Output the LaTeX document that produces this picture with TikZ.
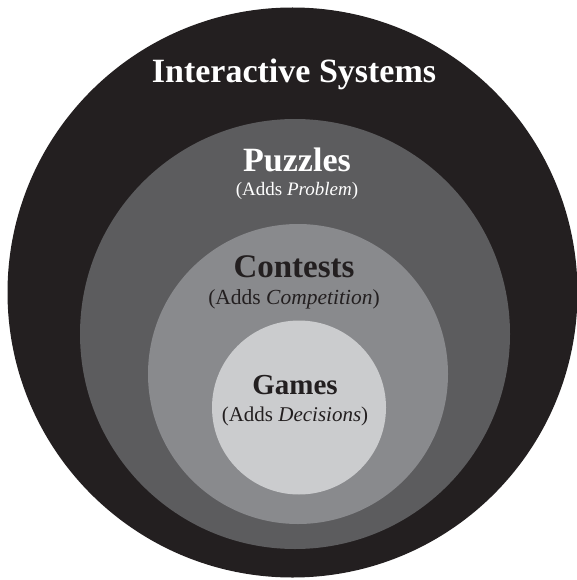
\documentclass[tikz,border=0pt]{standalone}
\usepackage{fontspec}
\setmainfont{Liberation Serif}
\definecolor{c1}{HTML}{231F20}
\definecolor{c2}{HTML}{5C5C5E}
\definecolor{c3}{HTML}{898A8D}
\definecolor{c4}{HTML}{CBCCCE}
\tikzset{
	head/.style={anchor=base, inner sep=0pt, font=\bfseries\fontsize{34}{36}\selectfont},
	sub/.style={anchor=base, inner sep=0pt, font=\fontsize{20}{22}\selectfont}
}

\begin{document}
\begin{tikzpicture}[x=1pt,y=-1pt]
			\useasboundingbox (0,0) rectangle (576,580);

			\fill[c1] (292.5,292.5) circle (285);
			\fill[c2] (295,334) circle (215);
			\fill[c3] (298,374) circle (150);
			\fill[c4] (299,407.5) circle (87);

			\node[head, white] (sys) at (294,83) {Interactive Systems};

			\node[head, white] (puz) at (297,171.5) {Puzzles};
			\node[sub, white, font=\fontsize{19}{21}\selectfont] (puzsub) at (297,195.5) {(Adds \textit{Problem})};

			\node[head, c1, font=\bfseries\fontsize{33}{35}\selectfont] (con) at (294,277.5) {Contests};
			\node[sub, c1, font=\fontsize{21.5}{23}\selectfont] (consub) at (294,304) {(Adds \textit{Competition})};

			\node[head, c1, font=\bfseries\fontsize{29}{31}\selectfont] (gam) at (295,394) {Games};
			\node[sub, c1, font=\fontsize{21}{23}\selectfont] (gamsub) at (295,421) {(Adds \textit{Decisions})};
\end{tikzpicture}
\end{document}
